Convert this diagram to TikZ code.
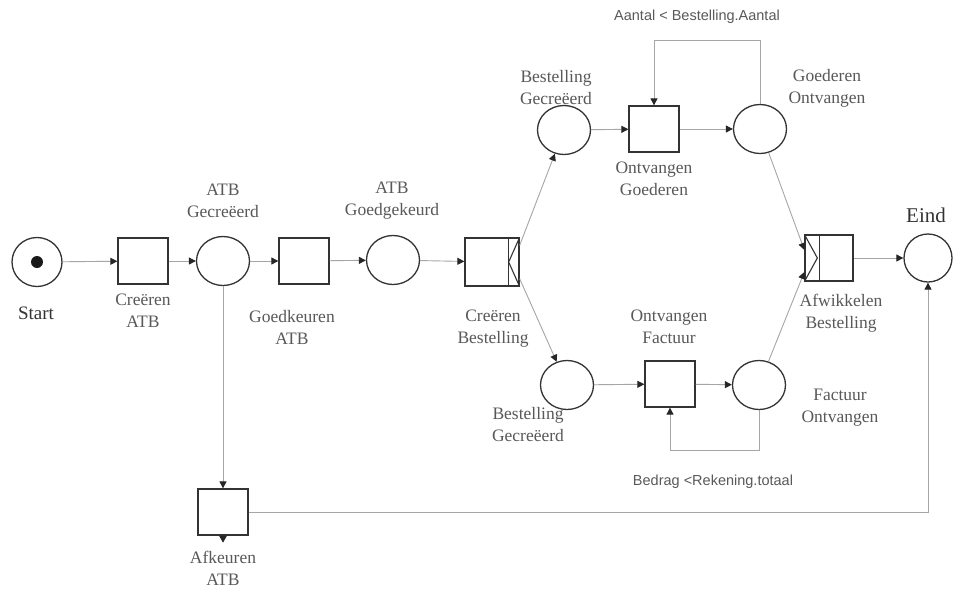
\documentclass[tikz,border=0pt]{standalone}
\usepackage{fontspec}
\setmainfont{Liberation Serif}
\newfontfamily\lsans{Liberation Sans}
\usetikzlibrary{shapes.geometric,arrows.meta}
\begin{document}
\begin{tikzpicture}[x=1pt,y=-1pt,
 place/.style={draw=black!80, line width=1.3pt, ellipse, minimum width=53pt, minimum height=49pt, inner sep=0pt},
 trans/.style={draw=black!80, line width=1.3pt, rectangle, minimum width=50pt, minimum height=46pt, inner sep=0pt},
 conn/.style={draw=black!35, line width=0.9pt, -{Triangle[length=7pt,width=7pt,color=black!85]}},
 lbl/.style={font=\fontsize{17.5}{22}\selectfont, text=black!65, align=center},
 cond/.style={font=\lsans\fontsize{14.5}{16}\selectfont, text=black!65}]
\useasboundingbox[fill=white] (0,0) rectangle (954,590);
% places and transitions
\node[place, minimum width=50pt] (start) at (37,262) {};
\fill[black!90] (start.center) circle (6pt);
\node[trans] (cATB) at (143,261) {};
\node[place] (gATB) at (223,261) {};
\node[trans] (gkATB) at (304,261) {};
\node[place] (ATBg) at (393,260) {};
\node[trans, minimum width=54pt, minimum height=48pt] (cB) at (492,262) {};
\draw[black!80, line width=1.1pt] ([xshift=-11pt]cB.north east) -- ([xshift=-11pt]cB.south east);
\draw[black!80, line width=1.1pt] (cB.north east) -- ([xshift=-11pt]cB.east) -- (cB.south east);
\node[place] (ubg) at (564,130) {};
\node[trans] (og) at (654,129) {};
\node[place] (gon) at (760,129) {};
\node[place] (lbg) at (567,385) {};
\node[trans] (of) at (670,384) {};
\node[place] (fon) at (759,385) {};
\node[trans, minimum width=48pt] (afw) at (829,258) {};
\draw[black!80, line width=1.1pt] ([xshift=15pt]afw.north west) -- ([xshift=15pt]afw.south west);
\draw[black!80, line width=1.1pt] (afw.north west) -- ([xshift=13pt]afw.west) -- (afw.south west);
\node[place, minimum width=48pt, minimum height=48pt] (eind) at (928,258) {};
\node[trans] (afk) at (223,512) {};
\fill[black!85] ([xshift=-4pt]afk.south) -- ([xshift=4pt]afk.south) -- ([yshift=-7pt]afk.south) -- cycle;
% connectors
\draw[conn] (start) -- (cATB);
\draw[conn] (cATB) -- (gATB);
\draw[conn] (gATB) -- (gkATB);
\draw[conn] (gkATB) -- (ATBg);
\draw[conn] (ATBg) -- (cB);
\draw[conn] ([yshift=-8pt]cB.north east) -- (ubg);
\draw[conn] ([yshift=8pt]cB.south east) -- (lbg);
\draw[conn] (ubg) -- (og);
\draw[conn] (og) -- (gon);
\coordinate (topy) at (0,40);
\draw[conn] (gon.north) -- (gon.north |- topy) -- (og.north |- topy) -- (og.north);
\draw[conn] (lbg) -- (of);
\draw[conn] (of) -- (fon);
\coordinate (boty) at (0,450);
\draw[conn] (fon.south) -- (fon.south |- boty) -- (of.south |- boty) -- (of.south);
\draw[conn] (gon) -- ([yshift=8pt]afw.west);
\draw[conn] (fon) -- ([yshift=-14pt]afw.west);
\draw[conn] (afw) -- (eind);
\draw[conn] (gATB) -- (afk);
\draw[conn] (afk) -| (eind);
% labels
\node[lbl, font=\fontsize{19}{22}\selectfont, text=black!80] (lstart) at (36,313) {Start};
\node[lbl] (lcATB) at (143,311) {Creëren\\ATB};
\node[lbl] (lgATB) at (223,201) {ATB\\Gecreëerd};
\node[lbl] (lgkATB) at (292,327) {Goedkeuren\\ATB};
\node[lbl] (lATBg) at (392,201) {ATB\\Goedgekeurd};
\node[lbl] (lcB) at (493,329) {Creëren\\Bestelling};
\node[lbl] (lubg) at (556,88) {Bestelling\\Gecreëerd};
\node[lbl] (lgon) at (827,88) {Goederen\\Ontvangen};
\node[lbl] (log) at (654,179) {Ontvangen\\Goederen};
\node[lbl] (lof) at (669,327) {Ontvangen\\Factuur};
\node[lbl] (llbg) at (528,425) {Bestelling\\Gecreëerd};
\node[lbl] (lfon) at (840,408) {Factuur\\Ontvangen};
\node[lbl] (lafw) at (841,313) {Afwikkelen\\Bestelling};
\node[lbl] (lafk) at (223,568) {Afkeuren\\ATB};
\node[lbl, font=\fontsize{21}{22}\selectfont, text=black!80] (leind) at (926,215) {Eind};
\node[cond] (caantal) at (697,17) {Aantal < Bestelling.Aantal};
\node[cond] (cbedrag) at (713,482) {Bedrag <Rekening.totaal};
\end{tikzpicture}
\end{document}
